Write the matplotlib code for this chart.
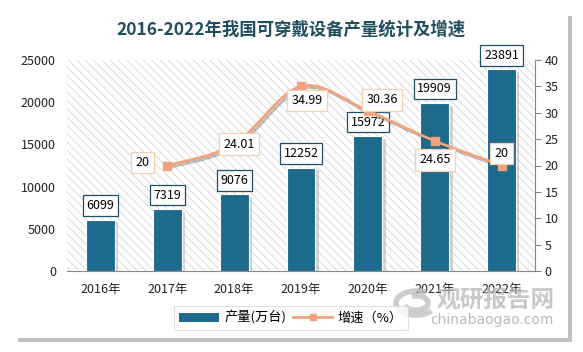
import numpy as np
import matplotlib.pyplot as plt
from matplotlib.patches import Rectangle, PathPatch, Arc
from matplotlib.path import Path
import matplotlib.patheffects as pe

plt.rcParams['font.family'] = ['Noto Sans CJK SC', 'DejaVu Sans']
plt.rcParams['hatch.linewidth'] = 0.6

years = ['2016年', '2017年', '2018年', '2019年', '2020年', '2021年', '2022年']
output = [6099, 7319, 9076, 12252, 15972, 19909, 23891]   # 产量(万台)
growth_years = [1, 2, 3, 4, 5, 6]
growth = [20, 24.01, 34.99, 30.36, 24.65, 20]             # 增速(%)

bar_color = '#1d6a8c'
line_color = '#f2a27f'

fig = plt.figure(figsize=(5.83, 3.52), dpi=100)

# white panel with a soft shadow
panel = Rectangle((14 / 583, 1 - 338 / 352), 554 / 583, 326 / 352,
                  transform=fig.transFigure, facecolor='white', edgecolor='none', zorder=-5,
                  path_effects=[pe.SimplePatchShadow(offset=(3, -3), shadow_rgbFace='#999999', alpha=0.6),
                                pe.Normal()])
fig.patches.append(panel)

ax = fig.add_axes([67 / 583, 1 - 271 / 352, 468 / 583, 211 / 352])
ax.set_facecolor('none')
ax.add_patch(Rectangle((0, 0), 1, 1, transform=ax.transAxes, facecolor='white',
                       edgecolor='#d6d6d6', hatch='\\\\\\\\', linewidth=0, zorder=0))

x = np.arange(len(years))
bars = ax.bar(x, output, width=0.43, color=bar_color, edgecolor='white', linewidth=0.8, zorder=2)
for b in bars:
    b.set_path_effects([pe.SimplePatchShadow(offset=(2.5, -2), shadow_rgbFace='#777777', alpha=0.3),
                        pe.Normal()])

for xi, v in zip(x, output):
    ax.annotate(str(v), (xi, v), xytext=(0, 14), textcoords='offset pixels',
                ha='center', va='center', fontsize=9, zorder=5,
                bbox=dict(boxstyle='square,pad=0.3', facecolor='white', edgecolor='#1d4e66', linewidth=0.9))

ax.set_xlim(-0.5, len(years) - 0.5)
ax.set_ylim(0, 25000)
ax.set_yticks(range(0, 25001, 5000))
ax.set_xticks(x)
ax.set_xticklabels(years)
for s in ['top', 'right', 'left']:
    ax.spines[s].set_visible(False)
ax.spines['bottom'].set_color('#888888')
ax.tick_params(axis='both', length=0, labelsize=9, colors='#222222')
ax.tick_params(axis='x', pad=9)
ax.tick_params(axis='y', pad=8)

ax2 = ax.twinx()
ax2.set_ylim(0, 40)
ax2.set_yticks(range(0, 41, 5))
for s in ['top', 'left', 'bottom']:
    ax2.spines[s].set_visible(False)
ax2.spines['right'].set_color('#888888')
ax2.tick_params(axis='y', length=4, direction='out', labelsize=9, colors='#222222', pad=3)
ax2.tick_params(axis='y', color='#888888')

# smoothed line (Bezier through the data points, like a spreadsheet "smooth line")
gx = np.array(growth_years, dtype=float)
gy = np.array(growth, dtype=float)
verts = [(gx[0], gy[0])]
codes = [Path.MOVETO]
n = len(gx)
for i in range(n - 1):
    p0 = np.array([gx[max(i - 1, 0)], gy[max(i - 1, 0)]])
    p1 = np.array([gx[i], gy[i]])
    p2 = np.array([gx[i + 1], gy[i + 1]])
    p3 = np.array([gx[min(i + 2, n - 1)], gy[min(i + 2, n - 1)]])
    c1 = p1 + (p2 - p0) / 6
    c2 = p2 - (p3 - p1) / 6
    verts += [tuple(c1), tuple(c2), tuple(p2)]
    codes += [Path.CURVE4] * 3
ax2.add_patch(PathPatch(Path(verts, codes), facecolor='none', edgecolor=line_color, linewidth=2,
                        zorder=3, path_effects=[pe.SimpleLineShadow(offset=(1.5, -1.5), alpha=0.25), pe.Normal()]))
ax2.plot(gx, gy, linestyle='none', marker='s', markersize=6, color=line_color, zorder=4)

offsets = [(-25, 3), (5, 0), (6, -14), (14, 11), (0, -19), (0, 12)]
for xi, v, off in zip(gx, gy, offsets):
    ax2.annotate(f'{v:g}', (xi, v), xytext=off, textcoords='offset pixels',
                 ha='center', va='center', fontsize=9, zorder=6,
                 bbox=dict(boxstyle='square,pad=0.35', facecolor='white', edgecolor='#f6cfae', linewidth=0.9))

# legend
h_bar = Rectangle((0, 0), 1, 1, facecolor=bar_color)
h_line, = ax2.plot([], [], color=line_color, linewidth=2, marker='s', markersize=5)
leg = fig.legend([h_bar, h_line], ['产量(万台)', '增速（%）'], loc='center',
                 bbox_to_anchor=(291 / 583, 1 - 318 / 352), ncol=2, fontsize=9.5,
                 frameon=True, fancybox=False, edgecolor='#d9d9d9',
                 handlelength=3, handletextpad=0.4, columnspacing=0.5, borderpad=0.4)
leg.get_frame().set_linewidth(0.8)

fig.text(291 / 583, 1 - 30 / 352, '2016-2022年我国可穿戴设备产量统计及增速', ha='center', va='center',
         fontsize=12.5, fontweight='bold', color='#1f4e5f')

# watermark
fig.text(496 / 583, 1 - 300 / 352, '观研报告网', ha='center', va='center', fontsize=17,
         fontweight='bold', color='#b8b8b8', alpha=0.75)
fig.text(492 / 583, 1 - 320 / 352, 'chinabaogao.com', ha='center', va='center', fontsize=10,
         color='#a8a8a8', alpha=0.8, family='DejaVu Sans')
for w, a1, a2 in [(40, 60, 320), (24, 200, 470)]:
    fig.patches.append(Arc((416 / 583, 1 - 303 / 352), w / 583, w * 0.6 / 352, theta1=a1, theta2=a2,
                           transform=fig.transFigure, color='#bdbdbd', linewidth=4, alpha=0.75))

fig.savefig('out.png', dpi=100)
